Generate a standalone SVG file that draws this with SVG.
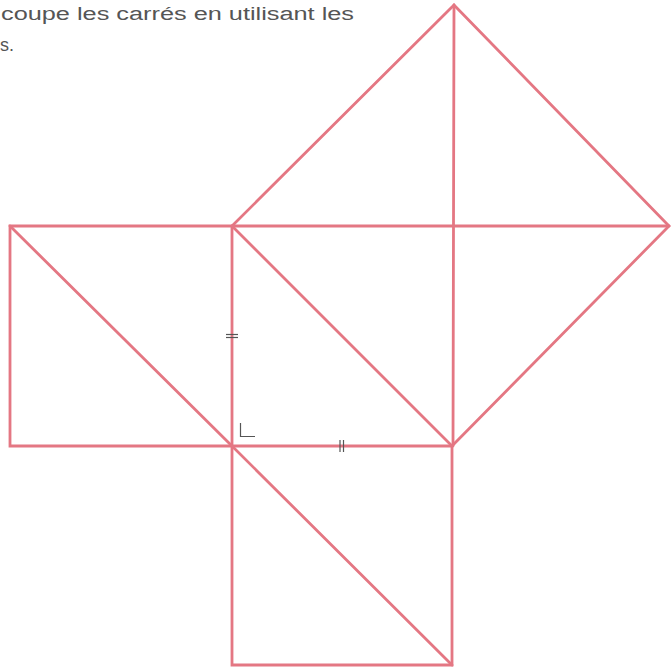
<svg xmlns="http://www.w3.org/2000/svg" width="671" height="672" viewBox="0 0 671 672">
  <style>
    .ln { stroke: #e47783; stroke-width: 2.8; fill: none; stroke-linejoin: miter; stroke-linecap: round; }
    .mk { stroke: #555; stroke-width: 1.2; fill: none; }
    .tx { font-family: "Liberation Sans", Arial, sans-serif; font-size: 18px; fill: #555; }
  </style>
  <rect width="671" height="672" fill="#ffffff"/>
  <g id="caption">
    <text class="tx" x="1" y="20" textLength="353" lengthAdjust="spacingAndGlyphs">coupe les carrés en utilisant les</text>
    <text class="tx" x="0" y="51">s.</text>
  </g>
  <g id="connectors">
    <g id="left-square">
      <polygon class="ln" points="10,226 232,226 232,446 10,446"/>
      <line class="ln" x1="10" y1="226" x2="232" y2="446"/>
    </g>
    <g id="bottom-square">
      <polygon class="ln" points="232,446 452,446 452,665 232,665"/>
      <line class="ln" x1="232" y1="446" x2="452" y2="665"/>
    </g>
    <g id="hypotenuse-square">
      <polygon class="ln" points="232,226 454,5 669,226 452,446"/>
      <line class="ln" x1="232" y1="226" x2="669" y2="226"/>
      <line class="ln" x1="454" y1="5" x2="453" y2="446"/>
    </g>
  </g>
  <g id="marks">
    <line class="mk" x1="226" y1="334.5" x2="238" y2="334.5"/>
    <line class="mk" x1="226" y1="337.5" x2="238" y2="337.5"/>
    <line class="mk" x1="340" y1="440" x2="340" y2="452"/>
    <line class="mk" x1="343.5" y1="440" x2="343.5" y2="452"/>
    <polyline class="mk" points="240.5,423 240.5,436.5 255,436.5"/>
  </g>
</svg>
